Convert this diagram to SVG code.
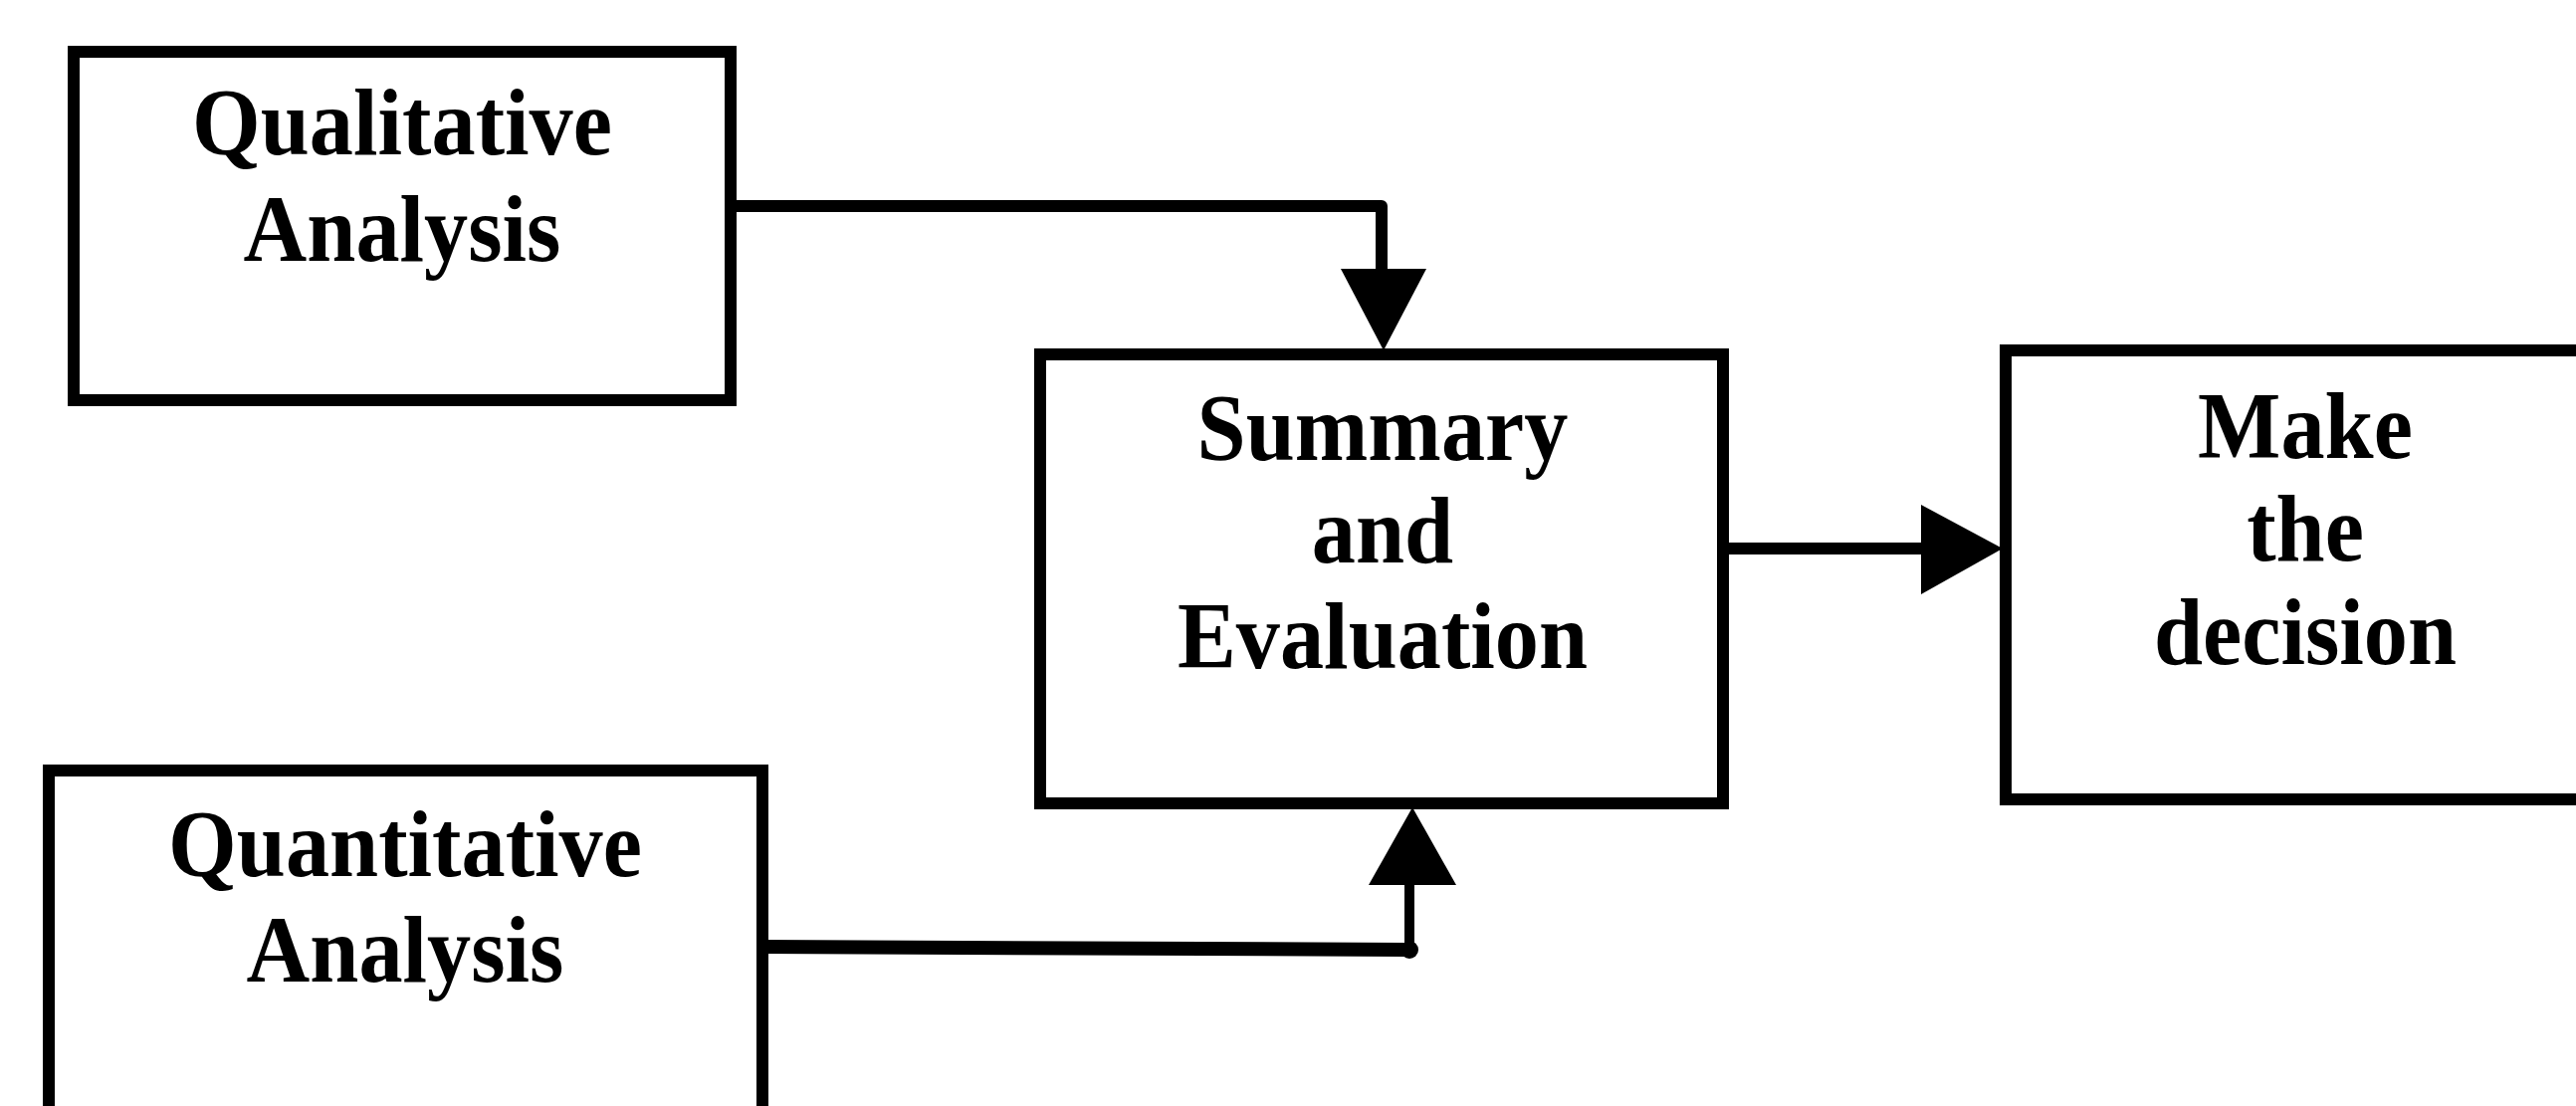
<svg xmlns="http://www.w3.org/2000/svg" width="2588" height="1111" viewBox="0 0 2588 1111">
  <style>
    .box { fill: #ffffff; stroke: #000000; stroke-width: 12; stroke-linejoin: miter; }
    .lbl { font-family: "Liberation Serif", "Times New Roman", serif; font-weight: bold; font-size: 96px; fill: #000000; text-anchor: middle; }
    .wire { fill: none; stroke: #000000; stroke-linecap: butt; stroke-linejoin: round; }
    .head { fill: #000000; stroke: none; }
  </style>

  <rect x="0" y="0" width="2588" height="1111" fill="#ffffff"/>

  <!-- connectors -->
  <g id="connectors">
    <!-- Qualitative Analysis -> Summary and Evaluation -->
    <polyline class="wire" stroke-width="12" points="734,207 1388,207 1388,274"/>
    <polygon class="head" points="1347,270 1433,270 1390,352"/>

    <!-- Summary and Evaluation -> Make the decision -->
    <line class="wire" stroke-width="12" x1="1731" y1="551" x2="1932" y2="551"/>
    <polygon class="head" points="1930,507 1930,597 2012,551"/>

    <!-- Quantitative Analysis -> Summary and Evaluation -->
    <polyline class="wire" stroke-width="14" points="766,951 1416,954"/>
    <line class="wire" stroke-width="10" x1="1416" y1="954" x2="1416" y2="886"/>
    <circle cx="1416" cy="954" r="9" fill="#000000"/>
    <polygon class="head" points="1375,889 1463,889 1419,811"/>
  </g>

  <!-- Qualitative Analysis -->
  <g id="node-qualitative">
    <rect class="box" x="74" y="52" width="660" height="350"/>
    <g transform="translate(404 0) scale(0.92 1)">
      <text class="lbl" x="0" y="155">Qualitative</text>
      <text class="lbl" x="0" y="262">Analysis</text>
    </g>
  </g>

  <!-- Summary and Evaluation -->
  <g id="node-summary">
    <rect class="box" x="1045" y="356" width="686" height="451"/>
    <g transform="translate(1389 0) scale(0.92 1)">
      <text class="lbl" x="0" y="462">Summary</text>
      <text class="lbl" x="0" y="565">and</text>
      <text class="lbl" x="0" y="671">Evaluation</text>
    </g>
  </g>

  <!-- Make the decision (runs past the right edge) -->
  <g id="node-decision">
    <rect class="box" x="2015" y="352" width="620" height="451"/>
    <g transform="translate(2316 0) scale(0.92 1)">
      <text class="lbl" x="0" y="460">Make</text>
      <text class="lbl" x="0" y="563">the</text>
      <text class="lbl" x="0" y="667">decision</text>
    </g>
  </g>

  <!-- Quantitative Analysis (runs past the bottom edge) -->
  <g id="node-quantitative">
    <rect class="box" x="49" y="774" width="717" height="380"/>
    <g transform="translate(407 0) scale(0.92 1)">
      <text class="lbl" x="0" y="880">Quantitative</text>
      <text class="lbl" x="0" y="986">Analysis</text>
    </g>
  </g>
</svg>
